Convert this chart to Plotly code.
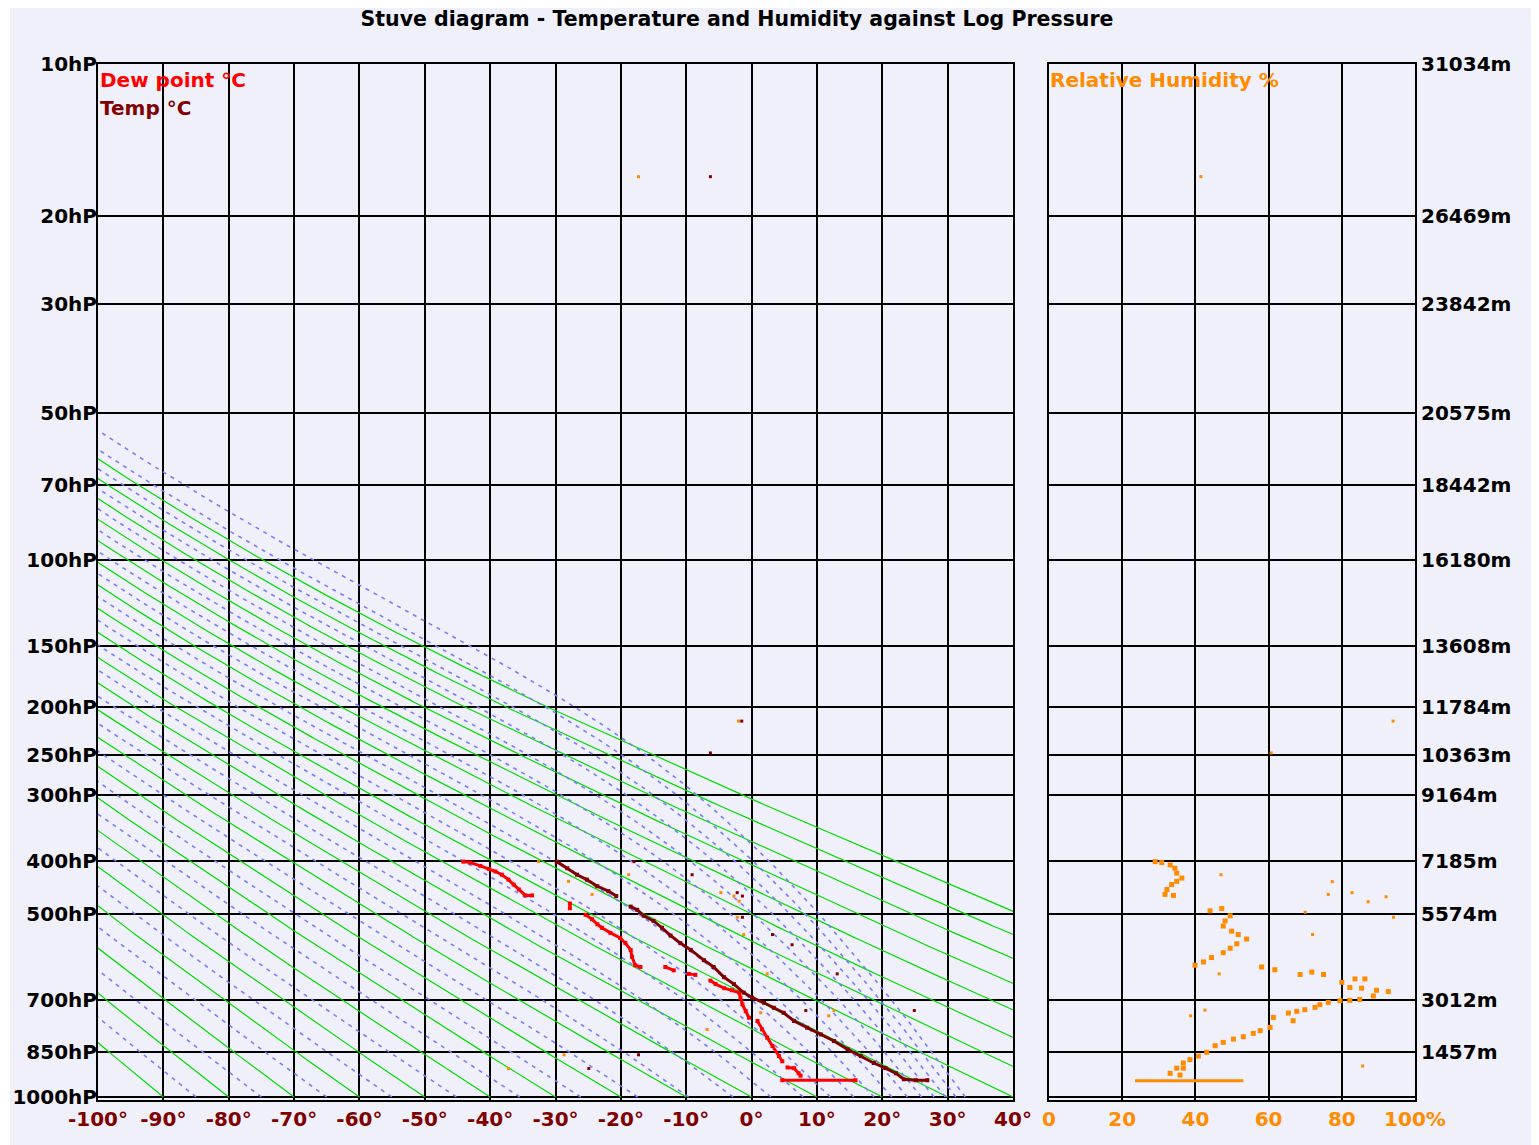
import numpy as np
import plotly.graph_objects as go

# ---------------- axis data ----------------
levels_hpa = [10, 20, 30, 50, 70, 100, 150, 200, 250, 300, 400, 500, 700, 850, 1000]
levels_m = [31034, 26469, 23842, 20575, 18442, 16180, 13608, 11784, 10363, 9164, 7185, 5574, 3012, 1457, 111]
level_labels = [f"{p}hP" for p in levels_hpa]
height_labels = [f"{h}m" for h in levels_m[:-1]] + [""]

temp_ticks = list(range(-100, 41, 10))
temp_labels = [f"{t}°" for t in temp_ticks]
rh_ticks = [0, 20, 40, 60, 80, 100]
rh_labels = ["0", "20", "40", "60", "80", "100%"]

# reference lines: dry adiabats (potential temperature, °C) and saturated adiabats (equiv. pot. temp, °C)
dry_theta_c = list(range(-90, 111, 10))
moist_thetae_c = list(range(-85, 126, 10))

# ---------------- sounding data ----------------
temp_c = [-29.8, -28.2, -26.7, -25.2, -23.6, -21.9, -20.7, None, -18.5, -17.5, -16.5, -15.0, -13.7, -12.4,
          -10.9, -9.3, -7.3, -5.8, -4.2, -2.7, -1.2, 0.1, 1.9, 3.4, 4.9, 6.5, 8.5, 10.6, 12.6,
          14.7, 16.7, 18.7, 20.5, 22.1, 23.3, 25.1, 26.9]
temp_m = [7156, 6958, 6764, 6617, 6419, 6272, 6125, None, 5810, 5713, 5534, 5381, 5176, 4943,
          4716, 4513, 4207, 4002, 3695, 3490, 3235, 3082, 2931, 2782, 2632, 2384, 2184, 1983, 1786,
          1535, 1334, 1127, 973, 819, 640, 612, 612]

dew_c = [-44.1, -43.0, -41.5, -40.2, -39.2, -38.2, -37.2, -36.4, -35.6, -34.6, -33.6, None,
         -27.8, -27.8, None,
         -25.4, -24.4, -23.6, -22.9, -21.6, -20.1, -19.3, -18.5, -18.3, -17.8, -17.0, None,
         -13.2, -11.9, None, -9.6, -8.6, None,
         -6.3, -5.5, -4.2, -3.0, -1.9, -1.7, -1.4, -0.9, -0.4, None,
         0.9, 1.6, 2.4, 3.2, 4.2, 4.7, None, 5.5, 6.5, 7.2, 7.5, None,
         4.7, 15.9]
dew_m = [7156, 7126, 7029, 6941, 6861, 6764, 6617, 6469, 6322, 6145, 6145, None,
         5900, 5760, None,
         5565, 5433, 5280, 5175, 5022, 4869, 4716, 4513, 4308, 4054, 4002, None,
         4002, 3901, None, 3796, 3766, None,
         3594, 3490, 3368, 3306, 3235, 3082, 2880, 2683, 2483, None,
         2384, 2133, 1885, 1637, 1334, 1180, None, 995, 973, 819, 748, None,
         612, 612]

rh_pct = [29.0, 30.8, 33.1, 34.4, 34.9, 36.3, 34.9, 33.5, 32.2, 31.7, 34.0,
          44.0, 47.2, 49.5, 48.1, 47.6, 49.9, 51.7, 54.0, 51.3, 49.5, 47.6, 44.4, 42.2, 39.9,
          58.1, 61.7, 68.6, 71.8, 75.0,
          80.0, 83.6, 86.3, 82.2, 85.4, 89.5, 92.7, 88.6, 84.9, 82.2, 79.5, 76.3, 74.0, 72.7,
          69.9, 67.7, 65.4, 66.7, 61.3, 60.4, 57.7, 55.8, 53.1, 50.4, 47.6, 45.4, 43.1, 40.8,
          38.5, 36.7, 34.9, 33.1, 36.7, 35.8]
rh_m = [7156, 7126, 7058, 6958, 6811, 6664, 6566, 6469, 6322, 6174, 6145,
        5683, 5751, 5534, 5381, 5228, 5074, 4973, 4838, 4697, 4562, 4430, 4286, 4154, 4054,
        4002, 3919, 3778, 3849, 3778,
        3543, 3644, 3644, 3389, 3368, 3306, 3266, 3134, 3030, 3002, 2992, 2942, 2873, 2793,
        2724, 2673, 2622, 2394, 2494, 2194, 2095, 2014, 1915, 1843, 1744, 1645, 1447, 1334,
        1229, 1127, 973, 819, 973, 767]
rh_surface_pct = [23.5, 53.1]
rh_surface_m = [600, 600]

# stray single readings
stray_t_c = [-6.3, -1.5, -6.3, 24.9, -18.0, -9.1, -2.2, -1.4, -1.4, 3.2, 6.2, 13.1, 8.3, -17.3, -24.9]
stray_t_m = [27661, 11363, 10410, 2700, 7156, 6764, 6228, 6125, 5490, 4973, 4667, 3796, 2700, 1373, 964]
stray_o_c = [-17.3, -2.0, -32.6, -28.0, -24.4, -18.8, -4.7, -2.7, -1.9, -2.2, -1.2, 2.4, 1.4, 12.6, 11.8, -6.8, -28.7, -37.2]
stray_o_m = [27661, 11363, 7156, 6566, 6174, 6764, 6228, 6125, 5970, 5490, 4973, 3796, 2632, 2700, 2540, 2133, 1373, 964]
stray_rh_pct = [41.5, 94.0, 60.7, 47.0, 77.4, 76.3, 82.8, 87.2, 92.1, 94.1, 70.0, 72.0, 46.5, 38.7, 42.6, 85.7]
stray_rh_m = [27661, 11363, 10410, 6764, 6556, 6174, 6228, 5955, 6105, 5490, 5640, 4973, 3796, 2540, 2711, 1037]

# ---------------- colours / fonts ----------------
BG = "#F0F0FB"
DARKRED = "#800000"
RED = "#FF0000"
ORANGE = "#FF8C00"
GREEN = "#00DD00"
BLUE = "#7C7CFF"
FONT = "DejaVu Sans"


def height_of(p):
    return np.interp(np.log(p), np.log(levels_hpa), levels_m)


p_grid = np.geomspace(1000, 35, 400)
z_grid = height_of(p_grid)


def theta_e(tk, p):
    tc = tk - 273.15
    es = 6.112 * np.exp(17.67 * tc / (tc + 243.5))
    es = np.minimum(es, 0.5 * p)
    rs = 0.622 * es / (p - es)
    return tk * (1000.0 / p) ** 0.2857 * np.exp(2.5e6 * rs / (1004.0 * tk))


def moist_T(target_k, p):
    lo = np.full_like(p, 120.0)
    hi = np.full_like(p, 340.0)
    for _ in range(60):
        mid = 0.5 * (lo + hi)
        up = theta_e(mid, p) > target_k
        hi = np.where(up, mid, hi)
        lo = np.where(up, lo, mid)
    return 0.5 * (lo + hi) - 273.15


fig = go.Figure()

for th in dry_theta_c:
    t = (th + 273.15) * (p_grid / 1000.0) ** 0.2857 - 273.15
    fig.add_trace(go.Scatter(x=t, y=z_grid, mode="lines", line=dict(color=GREEN, width=1.2),
                             hoverinfo="skip", showlegend=False, xaxis="x", yaxis="y"))

for the in moist_thetae_c:
    t = moist_T(the + 273.15, p_grid)
    fig.add_trace(go.Scatter(x=t, y=z_grid, mode="lines",
                             line=dict(color=BLUE, width=1.6, dash="4px,5px"),
                             hoverinfo="skip", showlegend=False, xaxis="x", yaxis="y"))

# strays
fig.add_trace(go.Scatter(x=stray_o_c, y=stray_o_m, mode="markers",
                         marker=dict(color=ORANGE, size=3, symbol="square"), showlegend=False))
fig.add_trace(go.Scatter(x=stray_t_c, y=stray_t_m, mode="markers",
                         marker=dict(color=DARKRED, size=3, symbol="square"), showlegend=False))

fig.add_trace(go.Scatter(x=dew_c, y=dew_m, mode="lines+markers", connectgaps=False,
                         line=dict(color=RED, width=3), marker=dict(color=RED, size=4, symbol="square"),
                         name="Dew point °C", showlegend=False))
fig.add_trace(go.Scatter(x=temp_c, y=temp_m, mode="lines+markers", connectgaps=False,
                         line=dict(color=DARKRED, width=3), marker=dict(color=DARKRED, size=4, symbol="square"),
                         name="Temp °C", showlegend=False))

fig.add_trace(go.Scatter(x=stray_rh_pct, y=stray_rh_m, mode="markers", xaxis="x2", yaxis="y2",
                         marker=dict(color=ORANGE, size=3, symbol="square"), showlegend=False))
fig.add_trace(go.Scatter(x=rh_pct, y=rh_m, mode="markers", xaxis="x2", yaxis="y2",
                         marker=dict(color=ORANGE, size=5, symbol="square"),
                         name="Relative Humidity %", showlegend=False))
fig.add_trace(go.Scatter(x=rh_surface_pct, y=rh_surface_m, mode="lines", xaxis="x2", yaxis="y2",
                         line=dict(color=ORANGE, width=3), showlegend=False))

# page offset (browser body margin)
OFF = 8
W, H = 1531, 1137
L, R, T, B = 90, 124, 56, 45
pw, ph = W - L - R, H - T - B


def px_x(page_px):
    return (page_px - OFF - L) / pw


def px_y(page_py):
    return (H - B - (page_py - OFF)) / ph


ytickfont = dict(family=FONT, size=20, color="black", weight="bold")
common_grid = dict(showgrid=True, gridcolor="black", gridwidth=2, zeroline=False,
                   showline=True, linecolor="black", linewidth=2, mirror=True, ticks="",
                   fixedrange=True, automargin=False)

fig.update_layout(
    width=W, height=H,
    margin=dict(l=L, r=R, t=T, b=B, pad=0, autoexpand=False),
    paper_bgcolor="white", plot_bgcolor=BG,
    showlegend=False,
    title=dict(text="Stuve diagram - Temperature and Humidity against Log Pressure",
               x=(737 - OFF) / W, xref="container", xanchor="center",
               y=1 - (19 - OFF) / H, yref="container", yanchor="middle",
               font=dict(family=FONT, size=20.5, color="black", weight="bold"),
               automargin=False),
    xaxis=dict(domain=[0, px_x(1013)], range=[-100, 40], tickvals=temp_ticks, ticktext=temp_labels,
               tickfont=dict(family=FONT, size=20, color=DARKRED, weight="bold"), anchor="y",
               **common_grid),
    xaxis2=dict(domain=[px_x(1049), 1], range=[0, 100], tickvals=rh_ticks, ticktext=rh_labels,
                tickfont=dict(family=FONT, size=20, color=ORANGE, weight="bold"), anchor="y2",
                **common_grid),
    yaxis=dict(domain=[0, 1], range=[20, 31034], tickvals=levels_m, ticktext=level_labels,
               tickfont=ytickfont, anchor="x", side="left", ticklabelstandoff=-5, **common_grid),
    yaxis2=dict(domain=[0, 1], range=[20, 31034], tickvals=levels_m, ticktext=height_labels,
                tickfont=ytickfont, anchor="x2", side="right", **common_grid),
    shapes=[dict(type="rect", xref="paper", yref="paper", x0=px_x(10), x1=px_x(1560),
                 y0=px_y(1160), y1=px_y(0), fillcolor=BG, line=dict(width=0), layer="below")],
    annotations=[
        dict(text="Dew point °C", x=px_x(98), y=px_y(80), xref="paper", yref="paper",
             xanchor="left", yanchor="middle", showarrow=False,
             font=dict(family=FONT, size=20, color=RED, weight="bold")),
        dict(text="Temp °C", x=px_x(98), y=px_y(108), xref="paper", yref="paper",
             xanchor="left", yanchor="middle", showarrow=False,
             font=dict(family=FONT, size=20, color=DARKRED, weight="bold")),
        dict(text="Relative Humidity %", x=px_x(1048), y=px_y(80), xref="paper", yref="paper",
             xanchor="left", yanchor="middle", showarrow=False,
             font=dict(family=FONT, size=20, color=ORANGE, weight="bold")),
    ],
)

fig.write_html("out.html")
